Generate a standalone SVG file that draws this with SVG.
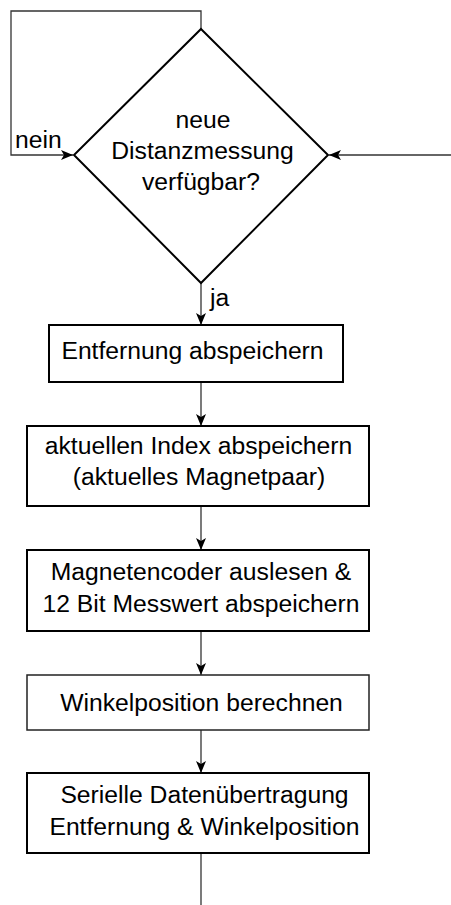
<svg xmlns="http://www.w3.org/2000/svg" width="451" height="905" viewBox="0 0 451 905">
<style>
text{font-family:"Liberation Sans",Arial,sans-serif;font-size:24.7px;fill:#000;text-anchor:middle}
.box{fill:#fff;stroke:#000;stroke-width:2}
.thin{stroke:#222;stroke-width:1.5}
.dia{fill:#fff;stroke:#000;stroke-width:2}
.con{fill:none;stroke:#333;stroke-width:1.3}
.arr{marker-end:url(#ah)}
</style>
<defs>
<marker id="ah" viewBox="0 0 12 10" refX="12" refY="5" markerWidth="12" markerHeight="10" markerUnits="userSpaceOnUse" orient="auto">
<path d="M0,0 L12,5 L0,10 L3,5 Z" fill="#000"/>
</marker>
</defs>
<rect width="451" height="905" fill="#fff"/>
<g id="connectors">
<path class="con" d="M201,29 V11 H11 V155 H73"/>
<path class="con arr" d="M451,155 H329"/>
<path class="con arr" d="M201,283 V325"/>
<path class="con arr" d="M201,382 V426"/>
<path class="con arr" d="M201,506 V550"/>
<path class="con arr" d="M201,631 V675"/>
<path class="con arr" d="M201,730 V773"/>
<path class="con" d="M201,853 V905"/>
<path d="M73,155 L61,150 L64,155 L61,160 Z" fill="#000"/>
<text x="15" y="148" style="text-anchor:start">nein</text>
<text x="210" y="306" style="text-anchor:start">ja</text>
</g>
<g id="decision">
<polygon class="dia" points="201,29 328,155 201,283 74,155"/>
<text x="203" y="128">neue</text>
<text x="202.5" y="159">Distanzmessung</text>
<text x="201" y="190">verfügbar?</text>
</g>
<g id="box1">
<rect class="box" x="49" y="325" width="294" height="57"/>
<text x="192.5" y="359">Entfernung abspeichern</text>
</g>
<g id="box2">
<rect class="box" x="27" y="426" width="342" height="80"/>
<text x="198.5" y="454">aktuellen Index abspeichern</text>
<text x="199" y="485">(aktuelles Magnetpaar)</text>
</g>
<g id="box3">
<rect class="box" x="27" y="550" width="342" height="81"/>
<text x="201" y="580">Magnetencoder auslesen &amp;</text>
<text x="201" y="611.5">12 Bit Messwert abspeichern</text>
</g>
<g id="box4">
<rect class="box thin" x="27" y="675" width="342" height="55"/>
<text x="201.5" y="710.5">Winkelposition berechnen</text>
</g>
<g id="box5">
<rect class="box" x="27" y="773" width="342" height="80"/>
<text x="204.5" y="803">Serielle Datenübertragung</text>
<text x="204.5" y="835">Entfernung &amp; Winkelposition</text>
</g>
</svg>
